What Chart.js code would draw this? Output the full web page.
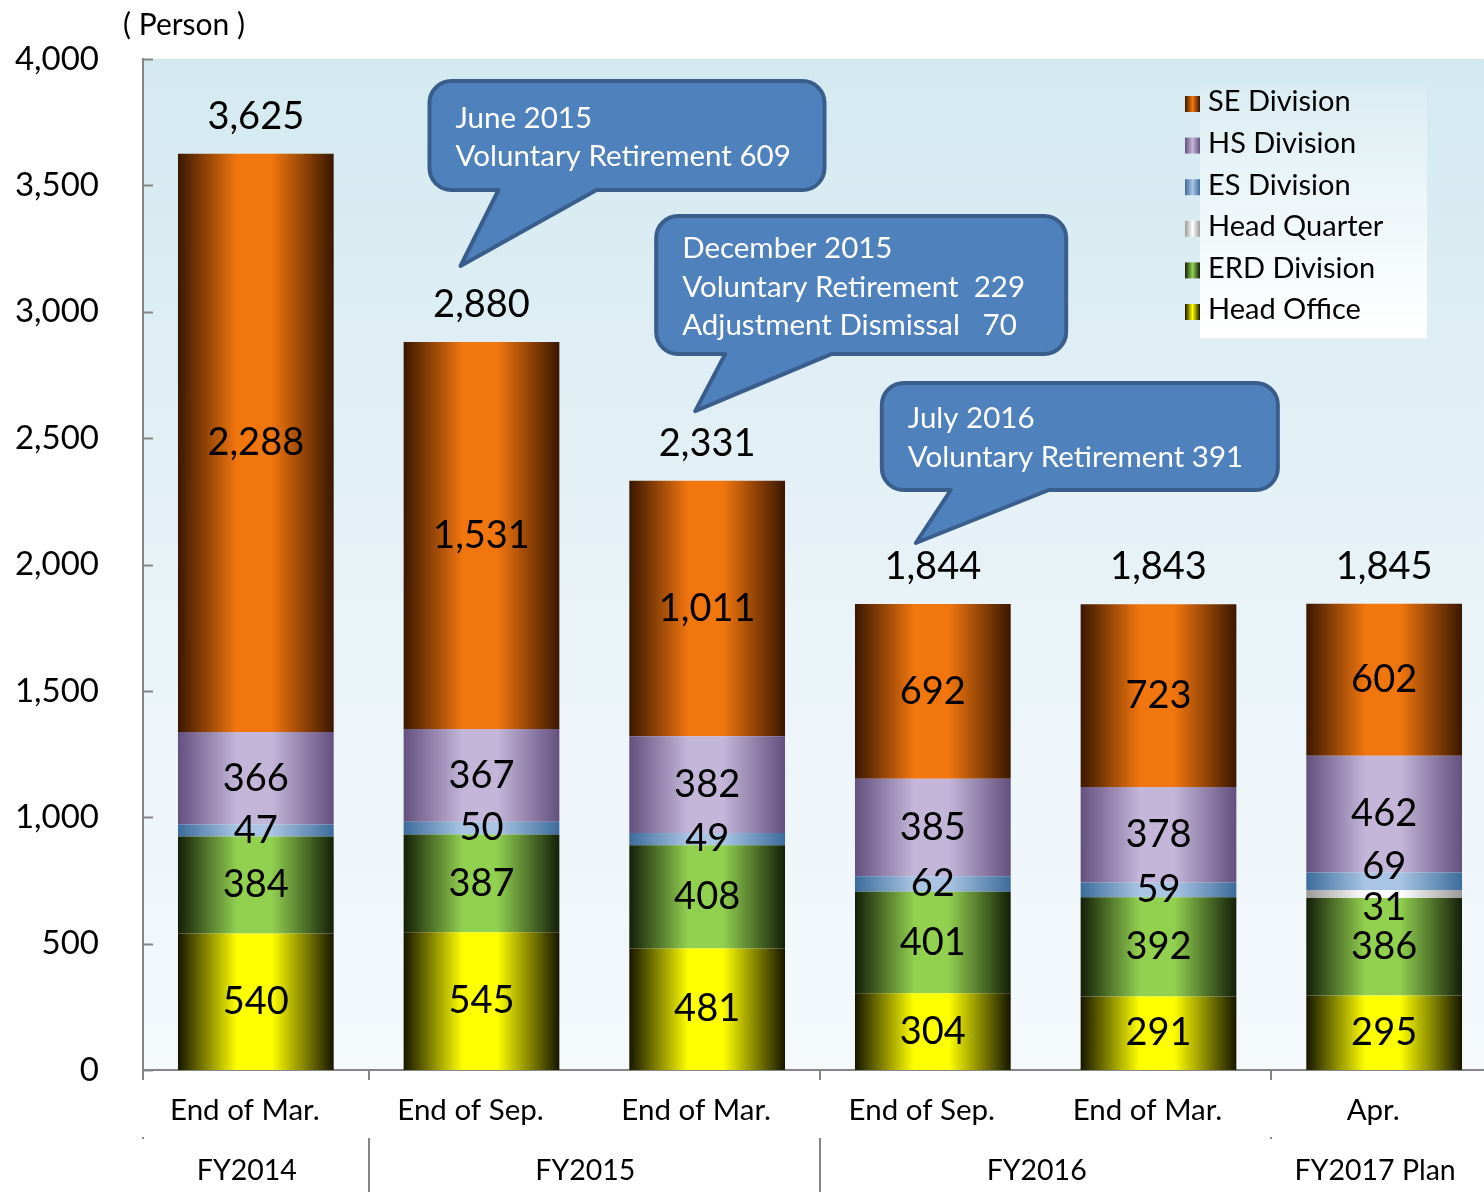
<!DOCTYPE html>
<html>
<head>
<meta charset="utf-8">
<script src="https://cdn.jsdelivr.net/npm/chart.js@4.4.1/dist/chart.umd.min.js"></script>
<style>
  html, body { margin: 0; padding: 0; background: #fff; overflow: hidden; }
  #wrap { width: 1497px; height: 1192px; position: relative; }
</style>
</head>
<body>
<div id="wrap"><canvas id="staffChart"></canvas></div>
<script>
// categories and fiscal groups
const categories = ['End of Mar.', 'End of Sep.', 'End of Mar.', 'End of Sep.', 'End of Mar.', 'Apr.'];
const groupLabels = ['FY2014', 'FY2015', 'FY2016', 'FY2017 Plan'];
const groupSizes = [1, 2, 2, 1];

// headcount by division (stack bottom -> top)
const headOffice = [540, 545, 481, 304, 291, 295];
const erdDivision = [384, 387, 408, 401, 392, 386];
const headQuarter = [0, 0, 0, 0, 0, 31];
const esDivision = [47, 50, 49, 62, 59, 69];
const hsDivision = [366, 367, 382, 385, 378, 462];
const seDivision = [2288, 1531, 1011, 692, 723, 602];
const totals = [3625, 2880, 2331, 1844, 1843, 1845];

const yMax = 4000;
const yStep = 500;

const FONT = 'Lato, "Open Sans", sans-serif';
const BAR_PCT = 0.69;

// callout notes: anchored at a category and a value
const callouts = [
  { idx: 1, value: 3181, dx: -21, box: [-31, -185, 364, -76], base: [38, 136],
    lines: ['June 2015', 'Voluntary Retirement 609'], textY: [37, 75] },
  { idx: 2, value: 2607, dx: -12, box: [-39, -195, 371, -57], base: [30, 136],
    lines: ['December 2015', 'Voluntary Retirement  229', 'Adjustment Dismissal   70'], textY: [32, 71, 109] },
  { idx: 3, value: 2085, dx: -17, box: [-34, -160, 362, -53], base: [35, 133],
    lines: ['July 2016', 'Voluntary Retirement 391'], textY: [35, 74] }
];

function barGradient(colors) {
  return (ctx) => {
    const chart = ctx.chart;
    const x = chart.scales.x;
    if (!x || !chart.chartArea) return colors[1];
    const cx = x.getPixelForValue(ctx.dataIndex);
    const w = (x.width / categories.length) * BAR_PCT;
    const g = chart.ctx.createLinearGradient(cx - w / 2, 0, cx + w / 2, 0);
    g.addColorStop(0, colors[0]);
    g.addColorStop(0.38, colors[1]);
    g.addColorStop(0.6, colors[1]);
    g.addColorStop(1, colors[0]);
    return g;
  };
}

const series = [
  { label: 'Head Office', data: headOffice, colors: ['#161600', '#ffff00'] },
  { label: 'ERD Division', data: erdDivision, colors: ['#141f08', '#92d050'] },
  { label: 'Head Quarter', data: headQuarter, colors: ['#9a9a9a', '#ffffff'] },
  { label: 'ES Division', data: esDivision, colors: ['#3c6c9c', '#a9c5e3'] },
  { label: 'HS Division', data: hsDivision, colors: ['#64507e', '#c4b6d9'] },
  { label: 'SE Division', data: seDivision, colors: ['#3a1700', '#f2760e'] }
];

// small vertical nudges for crowded labels (dataset-index)
const labelNudge = { '2-5': 14, '3-5': -15 };

const decorPlugin = {
  id: 'decor',
  beforeDraw(chart) {
    const { ctx, chartArea: a } = chart;
    const g = ctx.createLinearGradient(0, a.top, 0, a.bottom);
    g.addColorStop(0, '#d3e9f0');
    g.addColorStop(0.55, '#e9f3f8');
    g.addColorStop(1, '#f5f9fc');
    ctx.save();
    ctx.fillStyle = g;
    ctx.fillRect(a.left, a.top, a.right - a.left, a.bottom - a.top);
    ctx.restore();
  },
  afterDatasetsDraw(chart) {
    const { ctx, scales: { x, y } } = chart;
    ctx.save();
    ctx.fillStyle = '#000';
    ctx.textAlign = 'center';
    ctx.textBaseline = 'middle';
    ctx.font = '38px ' + FONT;
    chart.data.datasets.forEach((ds, di) => {
      const meta = chart.getDatasetMeta(di);
      meta.data.forEach((bar, i) => {
        const v = ds.data[i];
        if (!v) return;
        const cy = (bar.y + bar.base) / 2 + (labelNudge[di + '-' + i] || 0);
        ctx.fillText(v.toLocaleString('en-US'), bar.x, cy);
      });
    });
    totals.forEach((t, i) => {
      ctx.fillText(t.toLocaleString('en-US'), x.getPixelForValue(i), y.getPixelForValue(t) - 37);
    });
    ctx.restore();
  },
  afterDraw(chart) {
    const { ctx, chartArea: a, scales: { x, y } } = chart;
    const step = x.width / categories.length;
    ctx.save();

    // y ticks drawn inward
    ctx.strokeStyle = '#868686';
    ctx.lineWidth = 2;
    for (let v = 0; v <= yMax; v += yStep) {
      const py = Math.round(y.getPixelForValue(v)) + 0.5;
      ctx.beginPath(); ctx.moveTo(a.left, py); ctx.lineTo(a.left + 10, py); ctx.stroke();
    }

    // group boundaries
    let acc = 0;
    const bounds = [0];
    groupSizes.forEach(n => { acc += n; bounds.push(acc); });
    ctx.fillStyle = '#868686';
    bounds.forEach((b, bi) => {
      if (b >= categories.length) return;
      const px = Math.round(a.left + b * step);
      ctx.beginPath(); ctx.moveTo(px, a.bottom); ctx.lineTo(px, a.bottom + 10); ctx.stroke();
      if (bi === 1 || bi === 2) {
        ctx.beginPath(); ctx.moveTo(px, a.bottom + 68); ctx.lineTo(px, a.bottom + 122); ctx.stroke();
      } else {
        ctx.fillRect(px - 1, a.bottom + 67, 2, 2);
      }
    });

    // category + group labels
    ctx.fillStyle = '#000';
    ctx.textAlign = 'center';
    ctx.textBaseline = 'middle';
    ctx.font = '29.5px ' + FONT;
    categories.forEach((c, i) => ctx.fillText(c, x.getPixelForValue(i) - 11, a.bottom + 40));
    ctx.font = '28.5px ' + FONT;
    groupLabels.forEach((g, gi) => {
      const mid = a.left + (bounds[gi] + bounds[gi + 1]) / 2 * step;
      ctx.fillText(g, mid - 9, a.bottom + 101);
    });

    // unit label
    ctx.font = '30px ' + FONT;
    ctx.textAlign = 'left';
    ctx.fillText('( Person )', 123, 25);

    // legend (reverse stack order)
    const lx = 1185, ly = 102, lgap = 41.6;
    const lg = ctx.createLinearGradient(0, 85, 0, 338);
    lg.addColorStop(0, 'rgba(255,255,255,0.15)');
    lg.addColorStop(1, 'rgba(255,255,255,1)');
    ctx.fillStyle = lg;
    ctx.fillRect(1200, 85, 227, 253);
    ctx.font = '29px ' + FONT;
    series.slice().reverse().forEach((s, k) => {
      const cy = ly + k * lgap;
      const mg = ctx.createLinearGradient(lx, 0, lx + 15, 0);
      mg.addColorStop(0, s.colors[0]);
      mg.addColorStop(0.5, s.colors[1]);
      mg.addColorStop(1, s.colors[0]);
      ctx.fillStyle = mg;
      ctx.fillRect(lx, cy - 6, 15, 16);
      ctx.fillStyle = '#000';
      ctx.fillText(s.label, 1208, cy);
    });

    // callouts
    callouts.forEach(c => {
      const tx = x.getPixelForValue(c.idx) + c.dx;
      const ty = y.getPixelForValue(c.value);
      const [l, t, r, b] = [tx + c.box[0], ty + c.box[1], tx + c.box[2], ty + c.box[3]];
      const rad = 22;
      ctx.beginPath();
      ctx.moveTo(l + rad, t);
      ctx.lineTo(r - rad, t);
      ctx.arcTo(r, t, r, t + rad, rad);
      ctx.lineTo(r, b - rad);
      ctx.arcTo(r, b, r - rad, b, rad);
      ctx.lineTo(tx + c.base[1], b);
      ctx.lineTo(tx, ty);
      ctx.lineTo(tx + c.base[0], b);
      ctx.lineTo(l + rad, b);
      ctx.arcTo(l, b, l, b - rad, rad);
      ctx.lineTo(l, t + rad);
      ctx.arcTo(l, t, l + rad, t, rad);
      ctx.closePath();
      ctx.fillStyle = '#4f81bd';
      ctx.fill();
      ctx.lineWidth = 4;
      ctx.lineJoin = 'round';
      ctx.strokeStyle = '#3a5e8c';
      ctx.stroke();
      ctx.fillStyle = '#fff';
      ctx.font = '29.5px ' + FONT;
      ctx.textAlign = 'left';
      c.lines.forEach((ln, k) => ctx.fillText(ln, l + 26, t + c.textY[k]));
    });
    ctx.restore();
  }
};

new Chart(document.getElementById('staffChart'), {
  type: 'bar',
  data: {
    labels: categories,
    datasets: series.map(s => ({
      label: s.label,
      data: s.data,
      backgroundColor: barGradient(s.colors),
      borderWidth: 0,
      barPercentage: BAR_PCT,
      categoryPercentage: 1
    }))
  },
  options: {
    responsive: true,
    maintainAspectRatio: false,
    animation: false,
    layout: { padding: { top: 59, left: 0, right: 0, bottom: 0 } },
    plugins: { legend: { display: false }, tooltip: { enabled: false } },
    scales: {
      x: {
        stacked: true,
        grid: { display: false },
        border: { display: true, color: '#868686', width: 2 },
        ticks: { display: false },
        afterFit(scale) { scale.height = 122; }
      },
      y: {
        stacked: true,
        min: 0,
        max: yMax,
        grid: { display: false },
        border: { display: true, color: '#868686', width: 2 },
        ticks: {
          stepSize: yStep,
          padding: 36,
          color: '#000',
          font: { size: 33, family: FONT },
          callback: (v) => v.toLocaleString('en-US')
        },
        afterFit(scale) { scale.width = 143; }
      }
    }
  },
  plugins: [decorPlugin]
});
</script>
</body>
</html>
